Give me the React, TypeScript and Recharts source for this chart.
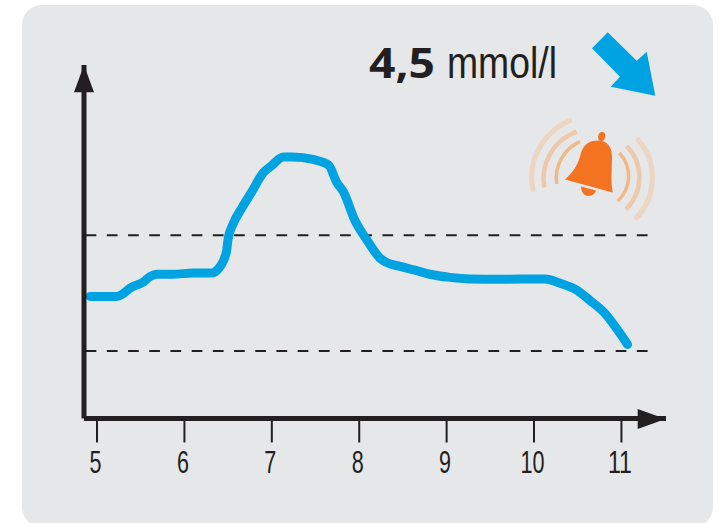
import React from "react";
import { LineChart, Line, XAxis, YAxis, ReferenceLine } from "recharts";

const hours = [4.92,5.23,5.30,5.38,5.53,5.61,5.68,5.87,6.10,6.31,6.39,6.48,6.50,6.56,6.66,6.77,6.90,7.00,7.13,7.24,7.47,7.65,7.74,7.82,7.95,8.09,8.24,8.31,8.47,8.64,8.81,9.04,9.27,9.61,10.13,10.30,10.47,10.64,10.81,10.96,11.07];
const glucose = [6.04,6.04,6.13,6.31,6.50,6.68,6.75,6.75,6.79,6.79,6.93,7.46,7.89,8.38,8.89,9.39,10.00,10.24,10.51,10.51,10.43,10.25,9.71,9.39,8.48,7.84,7.26,7.13,7.00,6.88,6.75,6.65,6.60,6.59,6.60,6.46,6.27,5.91,5.50,4.95,4.50];
const xTicks = [5,6,7,8,9,10,11];
const upperLimit = 8.0;
const lowerLimit = 4.29;
const limitEnd = 11.33;
const data = hours.map((h, i) => ({ h, g: glucose[i] }));

const INK = "#231f20";
const SANS = "'Liberation Sans',sans-serif";

function Tick(props: any) {
  const label = String(props.payload.value);
  return (
    <text
      x={props.x - 1.5}
      y={473}
      textAnchor="middle"
      fill={INK}
      fontFamily={SANS}
      fontSize={31}
      textLength={label.length * 12}
      lengthAdjust="spacingAndGlyphs"
    >
      {label}
    </text>
  );
}

export default function App() {
  return (
    <div style={{ position: "absolute", left: 0, top: 0, width: 720, height: 523, background: "#fff", overflow: "hidden" }}>
      <div style={{ position: "absolute", left: 22, top: 5, width: 690.5, height: 522, background: "#e6e7e9", borderRadius: 20 }} />
      <div style={{ position: "absolute", left: 0, top: 0 }}>
        <LineChart width={720} height={523} data={data} margin={{ left: 0, right: 54, top: 65, bottom: 0 }}>
          <XAxis
            dataKey="h"
            type="number"
            domain={[4.851, 11.51]}
            ticks={xTicks}
            interval={0}
            height={104.5}
            axisLine={{ stroke: INK, strokeWidth: 5 }}
            tickLine={{ stroke: INK, strokeWidth: 2 }}
            tickSize={24}
            tick={Tick}
          />
          <YAxis
            type="number"
            domain={[2.124, 13.46]}
            width={84}
            tick={false}
            tickLine={false}
            axisLine={{ stroke: INK, strokeWidth: 5 }}
          />
          <ReferenceLine segment={[{ x: 4.87, y: upperLimit }, { x: limitEnd, y: upperLimit }]} stroke={INK} strokeWidth={2} strokeDasharray="10.7 10.5" />
          <ReferenceLine segment={[{ x: 4.87, y: lowerLimit }, { x: limitEnd, y: lowerLimit }]} stroke={INK} strokeWidth={2} strokeDasharray="10.7 10.5" />
          <Line
            dataKey="g"
            type="monotone"
            stroke="#00a3e2"
            strokeWidth={9}
            strokeLinecap="round"
            strokeLinejoin="round"
            dot={false}
            activeDot={false}
            isAnimationActive={false}
          />
        </LineChart>
      </div>
      <svg width={720} height={523} style={{ position: "absolute", left: 0, top: 0, pointerEvents: "none" }}>
        <polygon points="84,65 74,92.3 94,92.3" fill={INK} />
        <polygon points="665.5,419 637.7,409 637.7,429" fill={INK} />
        <text x={369} y={77.5} fontFamily="'Open Sans',sans-serif" fontWeight={700} fontSize={42} fill={INK} textLength={66} lengthAdjust="spacingAndGlyphs">4,5</text>
        <text x={447} y={78} fontFamily={SANS} fontSize={44} fill={INK} textLength={110} lengthAdjust="spacingAndGlyphs">mmol/l</text>
        <polygon points="607.7,32.3 636.7,60.7 646.7,51.7 655.3,95.7 610.7,86.7 620,76.7 592,48.3" fill="#00a3e2" />
        <g fill="none">
          <path d="M533.3,191.7 A62,62 0 0 1 571.7,120" stroke="#ecd5c1" strokeWidth={5} />
          <path d="M544.3,187.7 A50,50 0 0 1 576.7,131.7" stroke="#eec9a9" strokeWidth={4.5} />
          <path d="M556.7,184 A40,40 0 0 1 580,141.7" stroke="#f0b98a" strokeWidth={3.5} />
          <path d="M636.7,138.3 A58,58 0 0 1 635,219.3" stroke="#ecd5c1" strokeWidth={5} />
          <path d="M626.7,146 A45,45 0 0 1 626,209.3" stroke="#eec9a9" strokeWidth={4.5} />
          <path d="M619.3,152.7 A34,34 0 0 1 617.7,201" stroke="#f0b98a" strokeWidth={3.5} />
        </g>
        <g fill="#f47321">
          <path d="M565,179.5 C574,171 578,165 581,153 C584,143 591,140.5 598.5,140.5 C607,140.5 612,147 612,156 C612,170 610.5,180 612.7,192.5 Z" />
          <ellipse cx={601.7} cy={136.5} rx={3.5} ry={4.5} transform="rotate(12 601.7 136.5)" />
          <path d="M581,186.5 L596,190.5 C594,196 589,196.5 586,195.5 C583,194.5 581,191 581,186.5 Z" />
        </g>
      </svg>
    </div>
  );
}
